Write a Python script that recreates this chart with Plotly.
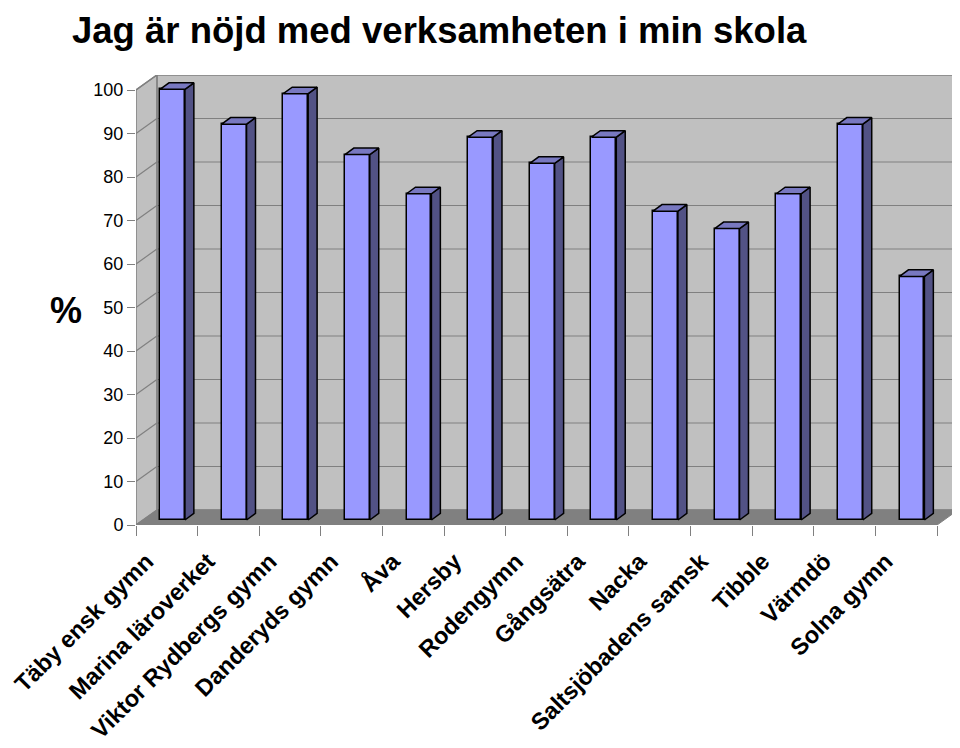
import plotly.graph_objects as go

categories = ["Täby ensk gymn", "Marina läroverket", "Viktor Rydbergs gymn", "Danderyds gymn",
              "Åva", "Hersby", "Rodengymn", "Gångsätra", "Nacka", "Saltsjöbadens samsk",
              "Tibble", "Värmdö", "Solna gymn"]
values = [99, 91, 98, 84, 75, 88, 82, 88, 71, 67, 75, 91, 56]
y_ticks = [0, 10, 20, 30, 40, 50, 60, 70, 80, 90, 100]

FONT = "Liberation Sans, Arial, sans-serif"
n = len(categories)
xs = list(range(n))

# 3D projection parameters (axis units)
DX = 0.339      # full depth shift in x
DY = 3.448      # full depth shift in y
BASE = 1.15     # bar front face lift (mid depth)
BW = 0.404      # bar width
BOFF = -0.11    # bar left edge offset from category centre
BDX = 0.145     # bar depth x
BDY = 1.5       # bar depth y
LABEL_SHIFT = -0.33
YMAX = max(y_ticks)

x_lo, x_hi = -0.5, n - 0.5
xrange_ = [x_lo, x_hi + DX]
yrange_ = [0, YMAX + DY]

fig = go.Figure()

# front faces
fig.add_trace(go.Bar(x=xs, y=values, base=[BASE] * n, width=[BW] * n, offset=[BOFF] * n,
                     marker=dict(color="#9999ff", line=dict(color="black", width=1.5)),
                     hoverinfo="skip", showlegend=False))

# side faces and top faces
sx, sy, tx, ty = [], [], [], []
for i, v in zip(xs, values):
    xl = i + BOFF
    xr = xl + BW
    top = BASE + v
    sx += [xr, xr + BDX, xr + BDX, xr, xr, None]
    sy += [BASE, BASE + BDY, top + BDY, top, BASE, None]
    tx += [xl, xr, xr + BDX, xl + BDX, xl, None]
    ty += [top, top, top + BDY, top + BDY, top, None]
fig.add_trace(go.Scatter(x=sx, y=sy, mode="lines", fill="toself", fillcolor="#525285",
                         line=dict(color="black", width=1.5), hoverinfo="skip", showlegend=False))
fig.add_trace(go.Scatter(x=tx, y=ty, mode="lines", fill="toself", fillcolor="#7878c0",
                         line=dict(color="black", width=1.5), hoverinfo="skip", showlegend=False))

# invisible trace for the boundary tick axis
fig.add_trace(go.Scatter(x=[x_lo, x_hi], y=[0, 0], xaxis="x2", mode="markers",
                         marker=dict(opacity=0), hoverinfo="skip", showlegend=False))

shapes = []
GRID = "#808080"
# back wall
shapes.append(dict(type="rect", xref="x", yref="y", x0=x_lo + DX, x1=x_hi + DX, y0=DY, y1=YMAX + DY,
                   fillcolor="#c0c0c0", line=dict(color=GRID, width=1.5), layer="below"))
# left wall
shapes.append(dict(type="path", xref="x", yref="y",
                   path=f"M{x_lo},0 L{x_lo},{YMAX} L{x_lo+DX},{YMAX+DY} L{x_lo+DX},{DY} Z",
                   fillcolor="#c0c0c0", line=dict(color=GRID, width=1.5), layer="below"))
# floor
shapes.append(dict(type="path", xref="x", yref="y",
                   path=f"M{x_lo},0 L{x_hi},0 L{x_hi+DX},{DY} L{x_lo+DX},{DY} Z",
                   fillcolor="#808080", line=dict(color=GRID, width=1), layer="below"))
# gridlines
for v in y_ticks[1:-1]:
    shapes.append(dict(type="line", xref="x", yref="y", x0=x_lo + DX, x1=x_hi + DX, y0=v + DY, y1=v + DY,
                       line=dict(color=GRID, width=1.2), layer="below"))
for v in y_ticks[1:]:
    shapes.append(dict(type="line", xref="x", yref="y", x0=x_lo, x1=x_lo + DX, y0=v, y1=v + DY,
                       line=dict(color=GRID, width=1.2), layer="below"))
fig.update_layout(shapes=shapes)

# page body has an 8px margin: plot area lands at screen x 132..958, y 75..525
PL, PB, PW, PH = 132, 525, 826, 450
annotations = [
    dict(text="<b>Jag är nöjd med verksamheten i min skola</b>", xref="paper", yref="paper",
         x=(66 - PL) / PW, y=(PB - 8) / PH, xanchor="left", yanchor="top", showarrow=False,
         font=dict(family=FONT, size=36.5, color="black")),
    dict(text="<b>%</b>", xref="paper", yref="paper", x=(62 - PL) / PW, y=(PB - 310) / PH,
         xanchor="center", yanchor="middle", showarrow=False,
         font=dict(family=FONT, size=36, color="black")),
]

fig.update_layout(
    width=952, height=740,
    margin=dict(l=124, r=2, t=67, b=223),
    paper_bgcolor="white", plot_bgcolor="white",
    annotations=annotations,
    bargap=0,
    xaxis=dict(range=xrange_, tickvals=[i + LABEL_SHIFT for i in xs], ticktext=categories, tickangle=-45,
               tickfont=dict(family=FONT, size=23.5, color="black", weight="bold"),
               ticklabelstandoff=17, ticklabeloverflow="allow",
               showgrid=False, zeroline=False, showline=False, ticks=""),
    xaxis2=dict(range=xrange_, overlaying="x", side="bottom", anchor="y",
                tickvals=[x_lo + k for k in range(n + 1)], showticklabels=False,
                ticks="outside", ticklen=10, tickcolor=GRID, tickwidth=1,
                showgrid=False, zeroline=False, showline=False),
    yaxis=dict(range=yrange_, tickvals=y_ticks, ticks="outside", ticklen=8, tickcolor=GRID,
               tickfont=dict(family=FONT, size=18, color="black"),
               showgrid=False, zeroline=False, showline=False),
)

fig.write_html("out.html")
